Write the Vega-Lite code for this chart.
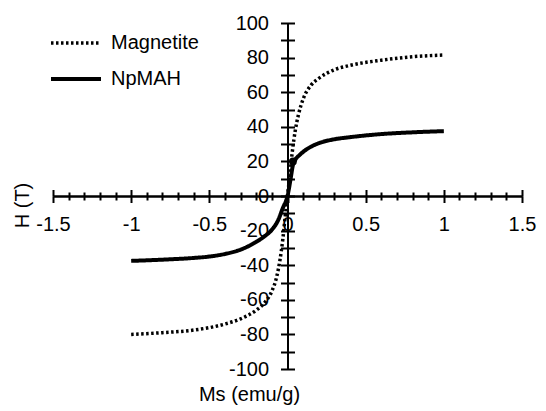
{
  "$schema": "https://vega.github.io/schema/vega-lite/v6.json",
  "width": 469,
  "height": 346,
  "autosize": {"type": "none"},
  "padding": {"left": 53, "top": 23, "right": 24, "bottom": 42},
  "background": "white",
  "config": {
    "view": {"stroke": null},
    "font": "Liberation Sans",
    "axis": {"grid": false, "domainColor": "black", "domainWidth": 2, "tickColor": "black", "tickWidth": 2, "labelColor": "black", "labelFont": "Liberation Sans", "labelFontSize": 20, "titleFont": "Liberation Sans", "titleFontSize": 20, "titleFontWeight": "normal", "titleColor": "black", "labelFlush": false, "labelOverlap": false}
  },
  "datasets": {
    "curves": [
      {"series": "Magnetite", "ms": -1, "h": -80},
      {"series": "Magnetite", "ms": -0.8, "h": -79},
      {"series": "Magnetite", "ms": -0.6, "h": -77.5},
      {"series": "Magnetite", "ms": -0.4, "h": -74},
      {"series": "Magnetite", "ms": -0.3, "h": -71},
      {"series": "Magnetite", "ms": -0.2, "h": -66},
      {"series": "Magnetite", "ms": -0.15, "h": -62},
      {"series": "Magnetite", "ms": -0.1, "h": -55},
      {"series": "Magnetite", "ms": -0.07, "h": -47},
      {"series": "Magnetite", "ms": -0.05, "h": -38},
      {"series": "Magnetite", "ms": -0.03, "h": -25},
      {"series": "Magnetite", "ms": -0.015, "h": -12},
      {"series": "Magnetite", "ms": 0, "h": 0},
      {"series": "Magnetite", "ms": 0.015, "h": 12},
      {"series": "Magnetite", "ms": 0.03, "h": 25},
      {"series": "Magnetite", "ms": 0.05, "h": 38},
      {"series": "Magnetite", "ms": 0.07, "h": 47},
      {"series": "Magnetite", "ms": 0.1, "h": 56},
      {"series": "Magnetite", "ms": 0.15, "h": 64},
      {"series": "Magnetite", "ms": 0.2, "h": 68},
      {"series": "Magnetite", "ms": 0.3, "h": 73},
      {"series": "Magnetite", "ms": 0.4, "h": 75.5},
      {"series": "Magnetite", "ms": 0.6, "h": 78.5},
      {"series": "Magnetite", "ms": 0.8, "h": 80.5},
      {"series": "Magnetite", "ms": 1, "h": 81.5},
      {"series": "NpMAH", "ms": -1, "h": -37.5},
      {"series": "NpMAH", "ms": -0.8, "h": -36.8},
      {"series": "NpMAH", "ms": -0.6, "h": -35.8},
      {"series": "NpMAH", "ms": -0.5, "h": -35},
      {"series": "NpMAH", "ms": -0.4, "h": -33.5},
      {"series": "NpMAH", "ms": -0.3, "h": -31},
      {"series": "NpMAH", "ms": -0.2, "h": -26.5},
      {"series": "NpMAH", "ms": -0.15, "h": -23.5},
      {"series": "NpMAH", "ms": -0.1, "h": -19.5},
      {"series": "NpMAH", "ms": -0.06, "h": -14},
      {"series": "NpMAH", "ms": -0.03, "h": -7},
      {"series": "NpMAH", "ms": 0, "h": 0},
      {"series": "NpMAH", "ms": 0.02, "h": 10},
      {"series": "NpMAH", "ms": 0.035, "h": 18},
      {"series": "NpMAH", "ms": 0.05, "h": 21},
      {"series": "NpMAH", "ms": 0.075, "h": 23.5},
      {"series": "NpMAH", "ms": 0.1, "h": 25.5},
      {"series": "NpMAH", "ms": 0.15, "h": 28.5},
      {"series": "NpMAH", "ms": 0.2, "h": 30.5},
      {"series": "NpMAH", "ms": 0.3, "h": 32.8},
      {"series": "NpMAH", "ms": 0.4, "h": 34},
      {"series": "NpMAH", "ms": 0.6, "h": 35.8},
      {"series": "NpMAH", "ms": 0.8, "h": 36.8},
      {"series": "NpMAH", "ms": 1, "h": 37.5}
    ],
    "marker": [
      {"series": "NpMAH", "ms": 0.035, "h": 20}
    ]
  },
  "layer": [
    {
      "data": {"name": "curves"},
      "mark": {"type": "line", "interpolate": "monotone", "color": "black"},
      "encoding": {
        "x": {"field": "ms", "type": "quantitative", "scale": {"domain": [-1.5, 1.5], "nice": false, "zero": false},
          "axis": {"orient": "bottom", "offset": -173, "values": [-1.5,-1.4,-1.3,-1.2,-1.1,-1,-0.9,-0.8,-0.7,-0.6,-0.5,-0.4,-0.3,-0.2,-0.1,0,0.1,0.2,0.3,0.4,0.5,0.6,0.7,0.8,0.9,1,1.1,1.2,1.3,1.4,1.5],
            "tickSize": {"condition": {"test": "abs(datum.value*2 - round(datum.value*2)) < 0.001", "value": 6.5}, "value": 4},
            "labelPadding": 12,
            "labelExpr": "abs(datum.value*2 - round(datum.value*2)) < 0.001 ? (datum.value < 0 ? '-' + format(abs(datum.value), '') : format(datum.value, '')) : ''",
            "title": "Ms (emu/g)", "titleX": 196, "titleY": 204, "titleAlign": "center", "titleBaseline": "alphabetic", "titleAnchor": null}},
        "y": {"field": "h", "type": "quantitative", "scale": {"domain": [-100, 100], "nice": false},
          "axis": {"orient": "left", "offset": -234.5, "values": [-100,-90,-80,-70,-60,-50,-40,-30,-20,-10,0,10,20,30,40,50,60,70,80,90,100],
            "tickSize": 7, "labelPadding": 12,
            "labelExpr": "datum.value % 20 === 0 ? (datum.value < 0 ? '-' + format(abs(datum.value), '') : format(datum.value, '')) : ''",
            "title": "H (T)", "titleX": -259, "titleY": 182, "titleAngle": -90, "titleAlign": "center", "titleBaseline": "alphabetic"}},
        "strokeDash": {"field": "series", "type": "nominal", "scale": {"domain": ["Magnetite", "NpMAH"], "range": [[2.5, 2.5], [1, 0]]},
          "legend": {"orient": "none", "legendX": -4, "legendY": 10, "title": null, "symbolType": "stroke", "symbolSize": 2500, "symbolStrokeColor": "black", "clipHeight": 20, "rowPadding": 16, "labelFontSize": 20, "labelFont": "Liberation Sans", "labelColor": "black", "labelOffset": 8, "padding": 0}},
        "strokeWidth": {"field": "series", "type": "nominal", "scale": {"domain": ["Magnetite", "NpMAH"], "range": [3.5, 4]},
          "legend": {"orient": "none", "legendX": -4, "legendY": 10, "title": null, "symbolType": "stroke", "symbolSize": 2500, "symbolStrokeColor": "black", "clipHeight": 20, "rowPadding": 16, "labelFontSize": 20, "labelFont": "Liberation Sans", "labelColor": "black", "labelOffset": 8, "padding": 0}}
      }
    },
    {
      "data": {"name": "marker"},
      "mark": {"type": "circle", "color": "black", "opacity": 1, "size": 60},
      "encoding": {
        "x": {"field": "ms", "type": "quantitative", "axis": null},
        "y": {"field": "h", "type": "quantitative", "axis": null}
      }
    },
    {
      "data": {"name": "curves"},
      "mark": {"type": "point", "opacity": 0},
      "encoding": {
        "x": {"field": "ms", "type": "quantitative",
          "axis": {"orient": "top", "offset": -173, "values": [-1.5,-1.4,-1.3,-1.2,-1.1,-1,-0.9,-0.8,-0.7,-0.6,-0.5,-0.4,-0.3,-0.2,-0.1,0,0.1,0.2,0.3,0.4,0.5,0.6,0.7,0.8,0.9,1,1.1,1.2,1.3,1.4,1.5],
            "tickSize": {"condition": {"test": "abs(datum.value*2 - round(datum.value*2)) < 0.001", "value": 6.5}, "value": 4},
            "labels": false, "title": null}},
        "y": {"field": "h", "type": "quantitative",
          "axis": {"orient": "right", "offset": -234.5, "values": [-100,-90,-80,-70,-60,-50,-40,-30,-20,-10,0,10,20,30,40,50,60,70,80,90,100],
            "tickSize": 7, "labels": false, "title": null}}
      }
    }
  ],
  "resolve": {"axis": {"x": "independent", "y": "independent"}}
}
